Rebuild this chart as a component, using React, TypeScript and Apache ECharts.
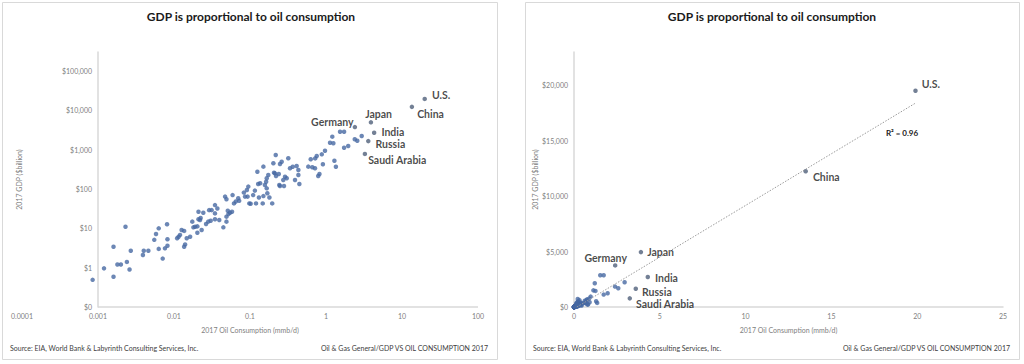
import React, { useEffect, useRef } from "react";
import * as echarts from "echarts";

// ---- Data (2017 oil consumption in mmb/d, 2017 GDP in $billion) ----
const otherOil = [
  0.00085, 0.0012, 0.0016, 0.0016, 0.0023, 0.0018, 0.002, 0.0024, 0.0026, 0.0027,
  0.0039, 0.004, 0.0046, 0.0055, 0.0058, 0.0063, 0.0063, 0.0071, 0.0076, 0.0082,
  0.0082, 0.0081, 0.011, 0.0115, 0.012, 0.0126, 0.0136, 0.0136, 0.014, 0.0147,
  0.0163, 0.0174, 0.018, 0.019, 0.0203, 0.0203, 0.021, 0.021, 0.0224, 0.022,
  0.0243, 0.0231, 0.0264, 0.0282, 0.0304, 0.029, 0.0313, 0.0346, 0.0372, 0.0346,
  0.0346, 0.0394, 0.0446, 0.047, 0.049, 0.049, 0.051, 0.0546, 0.058, 0.049,
  0.052, 0.059, 0.0615, 0.065, 0.07, 0.072, 0.083, 0.086, 0.093, 0.091,
  0.095, 0.098, 0.102, 0.11, 0.116, 0.12, 0.125, 0.128, 0.136, 0.131,
  0.147, 0.15, 0.163, 0.166, 0.169, 0.174, 0.18, 0.196, 0.203, 0.207,
  0.213, 0.218, 0.243, 0.239, 0.261, 0.248, 0.319, 0.336, 0.365, 0.411,
  0.433, 0.433, 0.446, 0.391, 0.304, 0.289, 0.274, 0.22, 0.166, 0.157,
  0.248, 0.28, 0.15, 1.53, 1.73, 1.21, 1.13, 1.25, 2.39, 2.58,
  2.95, 1.73, 1.96, 0.97, 0.88, 0.755, 0.72, 0.63, 0.585, 0.66,
  0.82, 0.79, 0.91, 1.29, 1.35, 0.716,
];
const otherGdp = [
  0.49, 0.96, 0.59, 3.4, 11, 1.2, 1.2, 1.4, 0.9, 2.7,
  2.1, 2.7, 2.7, 5.1, 7.2, 10, 3.0, 1.7, 3.1, 3.6,
  5.3, 12.7, 5.6, 6.1, 6.8, 9.1, 8.6, 3.4, 3.9, 5.6,
  6.1, 14.8, 10.6, 11, 11.2, 7.7, 26.5, 17, 18.3, 16.3,
  25, 9.1, 12.9, 14.8, 15.6, 29, 29, 39, 32, 24,
  17, 16.3, 10.6, 64, 55, 14.8, 28, 25, 26.5, 19.8,
  23, 70, 43, 48, 58, 50, 81, 64, 64, 94,
  115, 43, 42, 70, 91, 43, 275, 134, 140, 61,
  43, 370, 153, 104, 78, 227, 61, 43, 450, 260,
  250, 730, 126, 241, 494, 432, 604, 336, 369, 385,
  304, 227, 134, 169, 187, 206, 169, 214, 187, 126,
  119, 119, 66, 2860, 2860, 2140, 1500, 1450, 1840, 1690,
  2230, 1120, 1240, 940, 760, 690, 600, 570, 370, 357,
  241, 214, 425, 524, 369, 336,
];
const namedCountries = ["U.S.", "China", "Japan", "Germany", "India", "Russia", "Saudi Arabia"];
const namedOil = [19.9, 13.5, 3.9, 2.4, 4.3, 3.6, 3.25];
const namedGdp = [19500, 12250, 4950, 3750, 2700, 1650, 780];

const trendOil = [0.17, 19.9];
const trendGdp = [0, 18390];
const rSquaredText = "R\u00B2 = 0.96";

const chartTitle = "GDP is proportional to oil consumption";
const xAxisTitle = "2017 Oil Consumption (mmb/d)";
const yAxisTitle = "2017 GDP ($billion)";
const sourceText = "Source: EIA, World Bank & Labyrinth Consulting Services, Inc.";
const tagText = "Oil & Gas General/GDP VS OIL CONSUMPTION 2017";

// ---- Styles ----
const FONT = "Lato, 'Open Sans', sans-serif";
const DOT = "#4769a3";
const AXIS_LINE = "#d9d9d9";
const TICK_TEXT = "#808080";
const LABEL_TEXT = "#1a1a1a";

const leftLabelPlacement: Record<string, any> = {
  "U.S.": { position: "right", offset: [0, -4] },
  China: { position: "right", offset: [-2, 7] },
  Japan: { position: "right", offset: [-13, -8] },
  Germany: { position: "left", offset: [6, -5] },
  India: { position: "right", offset: [0, -1] },
  Russia: { position: "right", offset: [0, 3] },
  "Saudi Arabia": { position: "right", offset: [-4, 6] },
};
const rightLabelPlacement: Record<string, any> = {
  "U.S.": { position: "right", offset: [-1, -7] },
  China: { position: "right", offset: [0, 6] },
  Japan: { position: "right", offset: [-1, 0] },
  Germany: { position: "left", offset: [19, -7] },
  India: { position: "right", offset: [0, 1] },
  Russia: { position: "right", offset: [-1, 3] },
  "Saudi Arabia": { position: "right", offset: [-1, 6] },
};

const isPow10 = (v: number) => {
  const l = Math.log10(v);
  return Math.abs(l - Math.round(l)) < 1e-6;
};

const tickLabel = {
  fontFamily: FONT,
  fontSize: 7,
  color: TICK_TEXT,
};

function buildOption() {
  const others = otherOil.map((x, i) => [x, otherGdp[i]]);
  const namedData = (placement: Record<string, any>) =>
    namedCountries.map((n, i) => ({
      name: n,
      value: [namedOil[i], namedGdp[i]],
      label: { ...placement[n] },
    }));
  const namedLabel = {
    show: true,
    formatter: "{b}",
    distance: 5,
    fontFamily: FONT,
    fontSize: 10.5,
    lineHeight: 10,
    fontWeight: "bold",
    color: LABEL_TEXT,
  };

  return {
    animation: false,
    backgroundColor: "#ffffff",
    grid: [
      { left: 22, top: 52, width: 456, height: 255 },
      { left: 574, top: 52, width: 429, height: 255 },
    ],
    xAxis: [
      {
        gridIndex: 0,
        type: "log",
        logBase: 10,
        min: 0.0001,
        max: 100,
        axisLine: { show: false },
        axisTick: { show: false },
        splitLine: { show: false },
        axisLabel: {
          ...tickLabel,
          margin: 5,
          formatter: (v: number) => {
            const n = Number(v.toPrecision(4));
            return isPow10(n) ? String(n) : "";
          },
        },
        name: xAxisTitle,
        nameLocation: "middle",
        nameGap: 19,
        nameTextStyle: { ...tickLabel },
      },
      {
        gridIndex: 1,
        type: "value",
        min: 0,
        max: 25,
        interval: 5,
        axisLine: { show: true, lineStyle: { color: AXIS_LINE, width: 1.5 } },
        axisTick: { show: false },
        splitLine: { show: false },
        axisLabel: { ...tickLabel, margin: 5 },
        name: xAxisTitle,
        nameLocation: "middle",
        nameGap: 19,
        nameTextStyle: { ...tickLabel },
      },
    ],
    yAxis: [
      {
        gridIndex: 0,
        type: "log",
        logBase: 10,
        min: 0.1,
        max: 304000,
        offset: -76,
        axisLine: { show: true, lineStyle: { color: AXIS_LINE, width: 1.5 } },
        axisTick: { show: false },
        splitLine: { show: false },
        axisLabel: {
          ...tickLabel,
          margin: 6,
          formatter: (v: number) => {
            const n = Number(v.toPrecision(6));
            if (!isPow10(n)) return "";
            if (n < 1) return "$0";
            return "$" + Math.round(n).toLocaleString("en-US");
          },
        },
        name: yAxisTitle,
        nameLocation: "middle",
        nameGap: 76,
        nameTextStyle: { ...tickLabel },
      },
      {
        gridIndex: 1,
        type: "value",
        min: 0,
        max: 23000,
        interval: 5000,
        axisLine: { show: true, lineStyle: { color: AXIS_LINE, width: 1.5 } },
        axisTick: { show: false },
        splitLine: { show: false },
        axisLabel: {
          ...tickLabel,
          margin: 6,
          formatter: (v: number) =>
            v % 5000 !== 0 ? "" : "$" + v.toLocaleString("en-US"),
        },
        name: yAxisTitle,
        nameLocation: "middle",
        nameGap: 31,
        nameTextStyle: { ...tickLabel },
      },
    ],
    series: [
      {
        type: "scatter",
        xAxisIndex: 0,
        yAxisIndex: 0,
        data: others,
        symbolSize: 4.5,
        itemStyle: { color: DOT },
        markLine: {
          silent: true,
          symbol: ["none", "none"],
          label: { show: false },
          lineStyle: { color: AXIS_LINE, width: 1.5, type: "solid" },
          data: [[{ coord: [0.001, 0.1] }, { coord: [100, 0.1] }]],
        },
      },
      {
        type: "scatter",
        xAxisIndex: 0,
        yAxisIndex: 0,
        data: namedData(leftLabelPlacement),
        symbolSize: 4.5,
        itemStyle: { color: "#50607a" },
        label: namedLabel,
      },
      {
        type: "line",
        xAxisIndex: 1,
        yAxisIndex: 1,
        data: trendOil.map((x, i) => [x, trendGdp[i]]),
        showSymbol: false,
        symbol: "none",
        lineStyle: { color: "#9a9a9a", width: 1, type: [1.5, 1.5] },
        silent: true,
      },
      {
        type: "scatter",
        xAxisIndex: 1,
        yAxisIndex: 1,
        data: others,
        symbolSize: 4.5,
        itemStyle: { color: DOT },
      },
      {
        type: "scatter",
        xAxisIndex: 1,
        yAxisIndex: 1,
        data: namedData(rightLabelPlacement),
        symbolSize: 4.5,
        itemStyle: { color: "#50607a" },
        label: namedLabel,
      },
    ],
    graphic: [
      {
        type: "rect",
        shape: { x: 2.5, y: 2.5, width: 495, height: 357 },
        style: { fill: "none", stroke: AXIS_LINE, lineWidth: 1 },
        silent: true,
        z: -1,
      },
      {
        type: "rect",
        shape: { x: 525.5, y: 2.5, width: 494, height: 357 },
        style: { fill: "none", stroke: AXIS_LINE, lineWidth: 1 },
        silent: true,
        z: -1,
      },
      {
        type: "text",
        x: 251,
        y: 16,
        style: {
          text: chartTitle,
          fill: LABEL_TEXT,
          font: `bold 12px ${FONT}`,
          align: "center",
          verticalAlign: "middle",
        },
      },
      {
        type: "text",
        x: 772,
        y: 16,
        style: {
          text: chartTitle,
          fill: LABEL_TEXT,
          font: `bold 12px ${FONT}`,
          align: "center",
          verticalAlign: "middle",
        },
      },
      {
        type: "text",
        x: 10,
        y: 348,
        style: { text: sourceText, fill: "#404040", font: `7px ${FONT}`, align: "left", verticalAlign: "middle" },
      },
      {
        type: "text",
        x: 488,
        y: 348,
        style: { text: tagText, fill: "#404040", font: `7px ${FONT}`, align: "right", verticalAlign: "middle" },
      },
      {
        type: "text",
        x: 533,
        y: 348,
        style: { text: sourceText, fill: "#404040", font: `7px ${FONT}`, align: "left", verticalAlign: "middle" },
      },
      {
        type: "text",
        x: 1010,
        y: 348,
        style: { text: tagText, fill: "#404040", font: `7px ${FONT}`, align: "right", verticalAlign: "middle" },
      },
      {
        type: "text",
        x: 902,
        y: 133,
        style: { text: rSquaredText, fill: LABEL_TEXT, font: `bold 8px ${FONT}`, align: "center", verticalAlign: "middle" },
      },
    ],
  };
}

export default function App() {
  const ref = useRef<HTMLDivElement>(null);
  useEffect(() => {
    if (!ref.current) return;
    const chart = echarts.init(ref.current, undefined, { renderer: "svg" });
    chart.setOption(buildOption() as any);
    return () => chart.dispose();
  }, []);
  return (
    <div
      ref={ref}
      style={{ width: 1024, height: 364, position: "absolute", left: 0, top: 0, background: "#fff" }}
    />
  );
}
